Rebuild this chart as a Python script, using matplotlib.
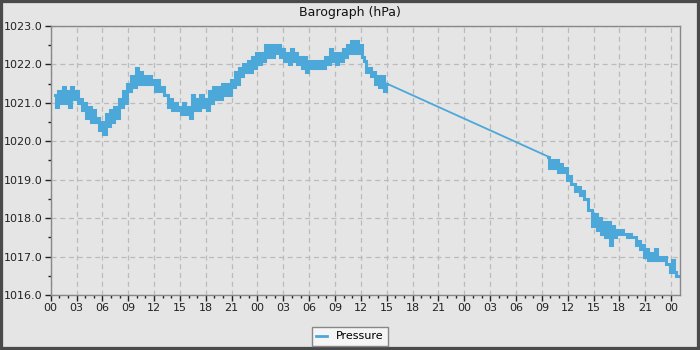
import matplotlib
matplotlib.use('Agg')
import matplotlib.pyplot as plt
import matplotlib.patches as patches
import numpy as np

# pressure readings (hPa), one every 15 minutes
# first run starts at hour 0.5, second run at hour 57.75 (logger gap between them)
pressure_day1 = [
    1021.2, 1020.9, 1021.3, 1021.0,
    1021.4, 1021.0, 1021.3, 1020.9,
    1021.4, 1021.1, 1021.3, 1021.0,
    1021.1, 1020.8, 1021.0, 1020.6,
    1020.9, 1020.5, 1020.8, 1020.5,
    1020.6, 1020.3, 1020.5, 1020.2,
    1020.7, 1020.4, 1020.8, 1020.5,
    1020.9, 1020.6, 1021.1, 1020.9,
    1021.3, 1021.0, 1021.5, 1021.3,
    1021.7, 1021.4, 1021.9, 1021.5,
    1021.8, 1021.5, 1021.7, 1021.5,
    1021.7, 1021.5, 1021.6, 1021.3,
    1021.6, 1021.3, 1021.4, 1021.2,
    1021.2, 1020.9, 1021.1, 1020.8,
    1021.0, 1020.8, 1020.9, 1020.7,
    1021.0, 1020.7, 1020.9, 1020.6,
    1021.2, 1020.8, 1021.1, 1020.8,
    1021.2, 1020.9, 1021.1, 1020.8,
    1021.3, 1021.0, 1021.4, 1021.1,
    1021.4, 1021.1, 1021.5, 1021.2,
    1021.5, 1021.2, 1021.6, 1021.4,
    1021.8, 1021.5, 1021.9, 1021.7,
    1022.0, 1021.8, 1022.1, 1021.8,
    1022.2, 1021.9, 1022.3, 1022.0,
    1022.3, 1022.1, 1022.5, 1022.2,
    1022.5, 1022.2, 1022.5, 1022.3,
    1022.5, 1022.2, 1022.4, 1022.1,
    1022.3, 1022.0, 1022.4, 1022.1,
    1022.3, 1022.0, 1022.2, 1021.9,
    1022.2, 1021.8, 1022.1, 1021.9,
    1022.1, 1021.9, 1022.1, 1021.9,
    1022.1, 1021.9, 1022.2, 1022.0,
    1022.4, 1022.1, 1022.3, 1022.0,
    1022.3, 1022.1, 1022.4, 1022.2,
    1022.5, 1022.3, 1022.6, 1022.3,
    1022.6, 1022.3, 1022.5, 1022.2,
    1022.1, 1021.8, 1021.9, 1021.7,
    1021.8, 1021.5, 1021.7, 1021.4,
    1021.7, 1021.3, 1021.5,
]
pressure_day3 = [
    1019.6, 1019.3, 1019.5, 1019.3,
    1019.5, 1019.2, 1019.4, 1019.2,
    1019.3, 1019.0, 1019.1, 1018.9,
    1018.9, 1018.7, 1018.8, 1018.6,
    1018.7, 1018.5, 1018.5, 1018.2,
    1018.2, 1017.8, 1018.1, 1017.7,
    1018.0, 1017.6, 1017.9, 1017.5,
    1017.9, 1017.3, 1017.8, 1017.5,
    1017.7, 1017.6, 1017.7, 1017.6,
    1017.6, 1017.5, 1017.6, 1017.5,
    1017.5, 1017.3, 1017.4, 1017.2,
    1017.3, 1017.0, 1017.2, 1016.9,
    1017.1, 1016.9, 1017.2, 1016.9,
    1017.0, 1016.9, 1017.0, 1016.8,
    1016.8, 1016.6, 1016.9, 1016.6,
    1016.5,
]
start_day1 = 0.5
start_day3 = 57.75
step = 0.25

hour_labels = ['00', '03', '06', '09', '12', '15', '18', '21'] * 3 + ['00']

t1 = start_day1 + step * np.arange(len(pressure_day1))
t3 = start_day3 + step * np.arange(len(pressure_day3))

bg = '#e5e5e5'
blue = '#4ba8d9'
fig = plt.figure(figsize=(7, 3.5), dpi=100, facecolor=bg)
ax = fig.add_axes([0.0724, 0.157, 0.8986, 0.769], facecolor=bg)

# noisy readings drawn as steps, the logger gap as a plain straight line
ax.plot(t1, pressure_day1, color=blue, linewidth=2.2, drawstyle='steps-mid',
        solid_joinstyle='miter', label='Pressure')
ax.plot([t1[-1], t3[0]], [pressure_day1[-1], pressure_day3[0]], color=blue, linewidth=1.3)
ax.plot(t3, pressure_day3, color=blue, linewidth=2.2, drawstyle='steps-mid',
        solid_joinstyle='miter')

ax.set_xlim(0, 73.0)
ax.set_ylim(1016, 1023)
ax.set_xticks(np.arange(len(hour_labels)) * 3)
ax.set_xticklabels(hour_labels)
ax.set_xticks(np.arange(0, 73, 1), minor=True)
ax.set_yticks(np.arange(1016, 1023.5, 1))
ax.set_yticklabels(['%.1f' % v for v in np.arange(1016, 1023.5, 1)])
ax.set_yticks(np.arange(1016, 1023.1, 0.5), minor=True)
ax.tick_params(axis='both', which='major', length=4, width=1, labelsize=8, colors='#222222', pad=2)
ax.tick_params(axis='both', which='minor', length=2.5, width=1, colors='#222222')

ax.grid(True, which='major', linestyle=(0, (4, 3)), color='#bbbbbb', linewidth=0.9)
ax.set_axisbelow(True)
for s in ax.spines.values():
    s.set_color('#888888')
    s.set_linewidth(1)

fig.text(0.5, 0.965, 'Barograph (hPa)', ha='center', va='center', fontsize=9, color='#111111')

leg = fig.legend(loc='lower center', bbox_to_anchor=(0.5, -0.004), fontsize=8, frameon=True,
                 fancybox=False, handlelength=1.0, borderpad=0.4)
leg.get_frame().set_facecolor('#f5f5f5')
leg.get_frame().set_edgecolor('#888888')
leg.get_frame().set_alpha(1)
leg.get_lines()[0].set_linewidth(2.0)

fig.patches.append(patches.Rectangle((0, 0), 1, 1, transform=fig.transFigure, fill=False,
                                     edgecolor='#4a4a4a', linewidth=4.5))

fig.savefig('out.png', dpi=100, facecolor=bg)
